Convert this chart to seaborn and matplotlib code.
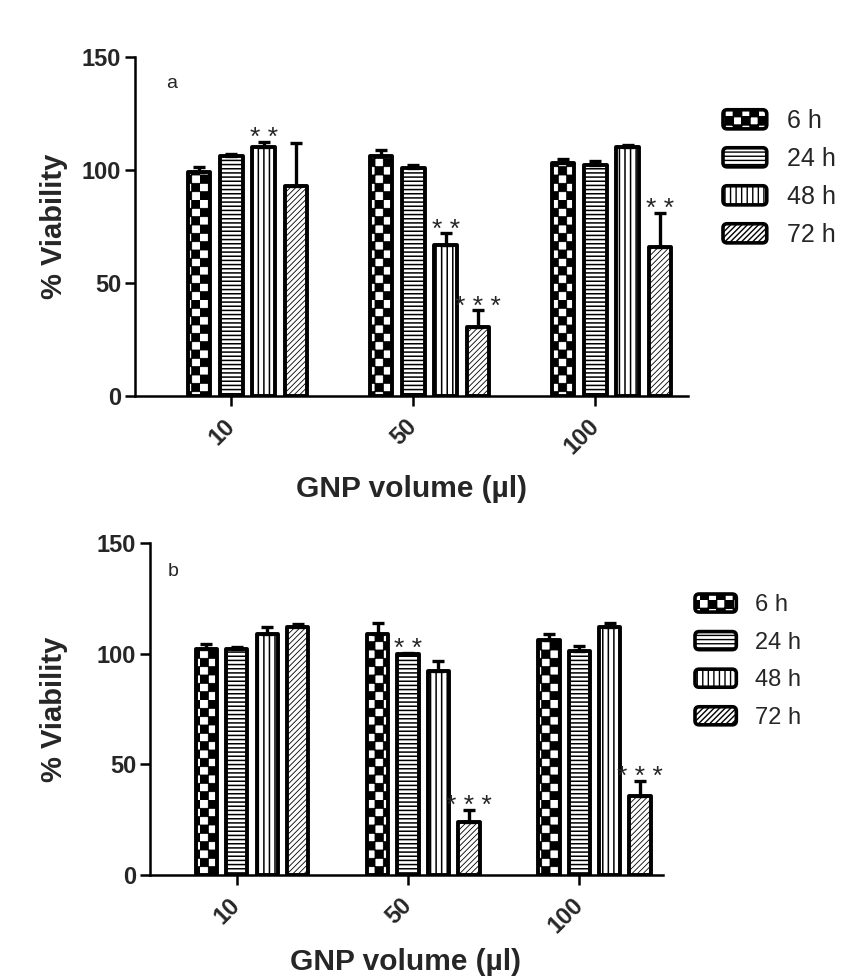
import warnings
warnings.filterwarnings('ignore')
import numpy as np
import pandas as pd
import matplotlib
matplotlib.use('Agg')
import matplotlib.pyplot as plt
import matplotlib.hatch as mhatch
import matplotlib.patches as mpatches
from matplotlib.path import Path
from matplotlib.legend_handler import HandlerPatch
import seaborn as sns

# ---------------- data ----------------
conc = ["10", "50", "100"]
times = ["6 h", "24 h", "48 h", "72 h"]

a_6h = [99, 106, 103]
a_24h = [106, 101, 102]
a_48h = [110, 67, 110]
a_72h = [93, 30.5, 66]
a_6h_err = [2.5, 3, 2]
a_24h_err = [1, 1, 2]
a_48h_err = [2.5, 5, 1]
a_72h_err = [19, 7.5, 15]

b_6h = [102, 109, 106]
b_24h = [102, 100, 101]
b_48h = [109, 92, 112]
b_72h = [112, 24, 35.5]
b_6h_err = [2.5, 5, 3]
b_24h_err = [1, 0.5, 2.5]
b_48h_err = [3, 4.5, 2]
b_72h_err = [1.5, 5.5, 7]

a_stars = [("10", "48 h", "* *"), ("50", "48 h", "* *"), ("50", "72 h", "* * *"), ("100", "72 h", "* *")]
b_stars = [("50", "24 h", "* *"), ("50", "72 h", "* * *"), ("100", "72 h", "* * *")]

ylabel = "% Viability"
xlabel = "GNP volume (\u00b5l)"
yticks = [0, 50, 100, 150]


# ---------------- custom checkerboard hatch ----------------
class CheckerHatch(mhatch.HatchPatternBase):
    def __init__(self, hatch, density):
        self.n = hatch.count('c') * 6
        self.num_vertices = (self.n * self.n // 2) * 5 if self.n else 0

    def set_vertices_and_codes(self, vertices, codes):
        n = self.n
        s = 1.0 / n
        verts, cds = [], []
        for r in range(n):
            for c in range(n):
                if (r + c) % 2 == 0:
                    x0, y0 = c * s, r * s
                    verts += [(x0, y0), (x0 + s, y0), (x0 + s, y0 + s), (x0, y0 + s), (x0, y0)]
                    cds += [Path.MOVETO, Path.LINETO, Path.LINETO, Path.LINETO, Path.CLOSEPOLY]
        vertices[:] = np.array(verts)
        codes[:] = np.array(cds)


mhatch._hatch_types.append(CheckerHatch)

hatches = ['cc', '----', '|||', '//////']
hatch_lw = [0.6, 1.1, 1.1, 0.6]

sns.set_style('ticks')
plt.rcParams['font.family'] = ['Liberation Sans', 'DejaVu Sans']
plt.rcParams['hatch.linewidth'] = 1.0
plt.rcParams['hatch.color'] = 'black'

W, H = 857, 980
fig = plt.figure(figsize=(W / 100, H / 100), dpi=100)


def fx(px):
    return px / W


def fy(py):
    return 1 - py / H


def round_patch(legend, orig_handle, xdescent, ydescent, width, height, fontsize):
    return mpatches.FancyBboxPatch((-xdescent, -ydescent), width, height,
                                   boxstyle="round,pad=0,rounding_size=3")


def panel(rect, means, errs, stars, xlim, letter, letter_xy, leg_xy, leg_fs, leg_ls,
          ylab_xy, xlab_xy):
    ax = fig.add_axes(rect)
    rows = []
    for t, vals in zip(times, means):
        for c, v in zip(conc, vals):
            rows.append({"conc": c, "time": t, "value": v})
    df = pd.DataFrame(rows)
    sns.barplot(data=df, x="conc", y="value", hue="time", order=conc,
                hue_order=times, palette=['white'] * 4, saturation=1,
                width=0.71, gap=0.3, edgecolor='black', linewidth=2.8,
                errorbar=None, legend=False, ax=ax)
    bar_conts = list(ax.containers)
    for i, cont in enumerate(bar_conts):
        for p in cont.patches:
            p.set_hatch(hatches[i])
            if hasattr(p, 'set_hatch_linewidth'):
                p.set_hatch_linewidth(hatch_lw[i])
            p.set_joinstyle('round')
        xs = [p.get_x() + p.get_width() / 2 for p in cont.patches]
        e = np.array(errs[i])
        ax.errorbar(xs, means[i], yerr=[np.zeros_like(e), e], fmt='none',
                    ecolor='black', elinewidth=2.4, capsize=4.5, capthick=2.4,
                    zorder=5)
    for c, t, s in stars:
        ti, ci = times.index(t), conc.index(c)
        p = bar_conts[ti].patches[ci]
        top = means[ti][ci] + errs[ti][ci]
        ax.text(p.get_x() + p.get_width() / 2, top - 1.5, s, ha='center',
                va='baseline', fontsize=19)

    ax.set_ylim(0, 150)
    ax.set_xlim(*xlim)
    ax.set_yticks(yticks)
    ax.set_yticklabels([str(v) for v in yticks], fontweight='bold', fontsize=17)
    ax.set_xticks([p.get_x() + p.get_width() / 2 for p in bar_conts[1].patches])
    ax.set_xticklabels(conc, rotation=45, ha='right', va='center',
                       rotation_mode='anchor', fontweight='bold', fontsize=17)
    ax.tick_params(axis='both', direction='out', length=7, width=1.8, color='black')
    ax.tick_params(axis='x', pad=12)
    ax.tick_params(axis='y', pad=3)
    sns.despine(ax=ax)
    for sp in ['left', 'bottom']:
        ax.spines[sp].set_linewidth(1.8)
        ax.spines[sp].set_color('black')
    ax.set_ylabel(ylabel, fontsize=21, fontweight='bold')
    ax.yaxis.set_label_coords(fx(ylab_xy[0]), fy(ylab_xy[1]), transform=fig.transFigure)
    ax.set_xlabel(xlabel, fontsize=21.5, fontweight='bold')
    ax.xaxis.set_label_coords(fx(xlab_xy[0]), fy(xlab_xy[1]), transform=fig.transFigure)
    fig.text(fx(letter_xy[0]), fy(letter_xy[1]), letter, ha='center', va='center', fontsize=14)

    handles = [mpatches.Patch(facecolor='white', edgecolor='black', linewidth=2.6,
                              hatch=h, label=t) for h, t in zip(hatches, times)]
    ax.legend(handles=handles,
              handler_map={mpatches.Patch: HandlerPatch(patch_func=round_patch)},
              loc='upper left', bbox_to_anchor=(fx(leg_xy[0]), fy(leg_xy[1])),
              bbox_transform=fig.transFigure, frameon=False, fontsize=leg_fs,
              handlelength=1.75, handleheight=0.8, handletextpad=0.8,
              labelspacing=leg_ls, borderpad=0, borderaxespad=0)
    return ax


panel([fx(135), fy(396), (688 - 135) / W, (396 - 57) / H],
      [a_6h, a_24h, a_48h, a_72h], [a_6h_err, a_24h_err, a_48h_err, a_72h_err],
      a_stars, (-0.618, 2.42), "a", (172, 83), (723, 109), 18, 0.56,
      (68, 226), (412, 475))

panel([fx(150), fy(875), (663 - 150) / W, (875 - 543) / H],
      [b_6h, b_24h, b_48h, b_72h], [b_6h_err, b_24h_err, b_48h_err, b_72h_err],
      b_stars, (-0.596, 2.40), "b", (173, 572), (695, 594), 17, 0.65,
      (68, 709), (406, 948))

fig.savefig('out.png', dpi=100)
